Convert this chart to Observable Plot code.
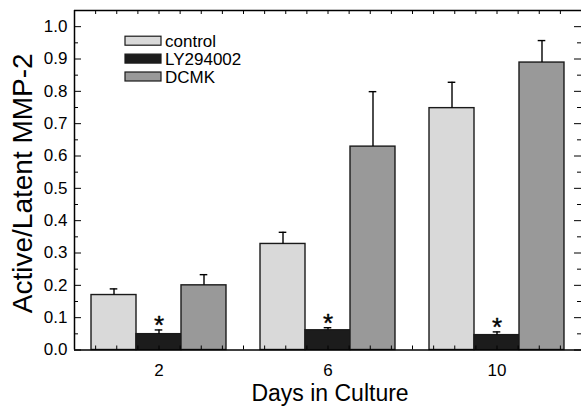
<!DOCTYPE html>
<html><head><meta charset="utf-8">
<script src="https://cdn.jsdelivr.net/npm/d3@7"></script>
<script src="https://cdn.jsdelivr.net/npm/@observablehq/plot@0.6"></script>
<style>body{margin:0;background:#fff} svg{display:block}</style>
</head><body><div id="chart"></div>
<script>
const days = [2, 6, 10];
const series = ["control", "LY294002", "DCMK"];
const controlMean = [0.170, 0.328, 0.748];
const controlErr  = [0.019, 0.036, 0.080];
const lyMean      = [0.049, 0.061, 0.046];
const lyErr       = [0.013, 0.008, 0.010];
const dcmkMean    = [0.200, 0.629, 0.889];
const dcmkErr     = [0.033, 0.170, 0.068];
const significant = ["LY294002"];
const yTickValues = [0, 0.1, 0.2, 0.3, 0.4, 0.5, 0.6, 0.7, 0.8, 0.9, 1.0];
const xTickValues = [2, 6, 10];
const fills = ["#d9d9d9", "#1c1c1c", "#999999"];

const means = [controlMean, lyMean, dcmkMean];
const errs = [controlErr, lyErr, dcmkErr];
const rows = [];
series.forEach((s, si) => days.forEach((d, di) => rows.push({
  series: s, si, day: d, mean: means[si][di], err: errs[si][di]
})));

const W = 581, H = 407, ML = 74, MR = 0, MT = 10, MB = 57.5;
const frameW = W - ML - MR, frameH = H - MT - MB;
const bw = 1.065;           // bar width in days
const cap = 0.09;           // half cap width in days
const barCenter = d => d.day + (d.si - 1) * bw;
const errTop = d => d.mean + d.err;

const yMinor = d3.range(0.05, 1.05, 0.1);
const xMinor = d3.range(0.5, 12, 0.5);
const axisColor = "#000";

const plot = Plot.plot({
  width: W, height: H,
  marginLeft: ML, marginRight: MR, marginTop: MT, marginBottom: MB,
  style: {fontFamily: "Liberation Sans, Arial, sans-serif", background: "#fff", color: "#000"},
  x: {type: "linear", domain: [0, 12], axis: null},
  y: {domain: [0, 1.05], axis: null},
  color: {domain: series, range: fills},
  marks: [
    Plot.rect(rows, {x1: d => barCenter(d) - bw / 2, x2: d => barCenter(d) + bw / 2, y1: 0, y2: "mean",
      fill: "series", stroke: "#1a1a1a", strokeWidth: 1.4}),
    Plot.ruleX(rows, {x: barCenter, y1: "mean", y2: errTop, stroke: "#000", strokeWidth: 1.4}),
    Plot.ruleY(rows, {y: errTop, x1: d => barCenter(d) - cap, x2: d => barCenter(d) + cap, stroke: "#000", strokeWidth: 1.4}),
    Plot.text(rows.filter(d => significant.includes(d.series)), {x: barCenter, y: errTop, text: () => "*",
      lineAnchor: "top", dy: -14, fontSize: 26, fill: "#000", stroke: "#000", strokeWidth: 0.4}),
    // ticks (inward)
    Plot.tickY(yTickValues, {y: d => d, insetRight: frameW - 7, stroke: axisColor}),
    Plot.tickY(yMinor, {y: d => d, insetRight: frameW - 4, stroke: axisColor}),
    Plot.tickY(yTickValues, {y: d => d, insetLeft: frameW - 7, stroke: axisColor}),
    Plot.tickY(yMinor, {y: d => d, insetLeft: frameW - 4, stroke: axisColor}),
    Plot.tickX(xMinor, {x: d => d, insetBottom: frameH - 4, stroke: axisColor}),
    Plot.tickX(xMinor, {x: d => d, insetTop: frameH - 4, stroke: axisColor}),
    // frame lines
    Plot.ruleX([0], {stroke: axisColor, strokeWidth: 1.5}),
    Plot.ruleY([0], {stroke: axisColor, strokeWidth: 1.5}),
    Plot.ruleY([1.05], {stroke: axisColor, strokeWidth: 1.5}),
    // axes labels
    Plot.axisY(yTickValues, {anchor: "left", tickSize: 0, tickPadding: 7, fontSize: 17,
      tickFormat: d => d.toFixed(1), label: null}),
    Plot.axisX(xTickValues, {anchor: "bottom", tickSize: 0, tickPadding: 13.5, fontSize: 17,
      tickFormat: d => String(d), label: null}),
    Plot.text(["Days in Culture"], {frameAnchor: "bottom", text: d => d, lineAnchor: "top",
      dy: 34.5, dx: 2, fontSize: 23, fill: "#000"}),
    Plot.text(["Active/Latent MMP-2"], {frameAnchor: "left", text: d => d, rotate: -90,
      lineAnchor: "top", textAnchor: "middle", dx: -62, dy: 3, fontSize: 28, fill: "#000"})
  ]
});

// legend inside plot area (top-left)
const svg = d3.select(plot);
const lg = svg.append("g").attr("font-family", "Liberation Sans, Arial, sans-serif")
  .attr("font-size", 17).attr("text-anchor", "start");
series.forEach((s, i) => {
  const cy = 40.7 + i * 17.9;
  lg.append("rect").attr("x", 125).attr("y", cy - 4.5).attr("width", 36).attr("height", 9)
    .attr("fill", fills[i]).attr("stroke", "#1a1a1a").attr("stroke-width", 1.2);
  lg.append("text").attr("x", 165).attr("y", cy).attr("dy", "0.36em")
    .attr("text-anchor", "start").attr("fill", "#000").text(s);
});

document.getElementById("chart").appendChild(plot);
</script>
</body></html>
